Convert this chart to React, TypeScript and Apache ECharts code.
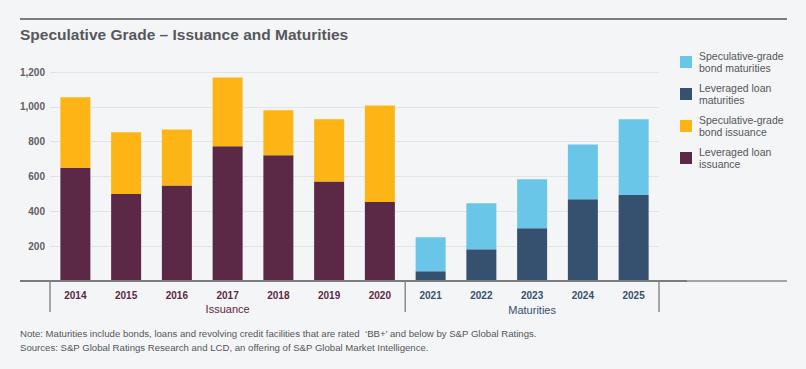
import React, { useEffect, useRef } from "react";
import * as echarts from "echarts";

const years = ["2014", "2015", "2016", "2017", "2018", "2019", "2020", "2021", "2022", "2023", "2024", "2025"];
const loanIssuance = [649, 500, 548, 773, 722, 571, 453, "-", "-", "-", "-", "-"];
const bondIssuance = [406, 354, 322, 396, 258, 357, 555, "-", "-", "-", "-", "-"];
const loanMaturities = ["-", "-", "-", "-", "-", "-", "-", 56, 182, 303, 469, 494];
const bondMaturities = ["-", "-", "-", "-", "-", "-", "-", 195, 264, 281, 315, 434];
const yTicks = { min: 0, max: 1200, interval: 200 };
const groupLabels = ["Issuance", "Maturities"];
const title = "Speculative Grade – Issuance and Maturities";
const notes = [
  "Note: Maturities include bonds, loans and revolving credit facilities that are rated  ‘BB+’ and below by S&P Global Ratings.",
  "Sources: S&P Global Ratings Research and LCD, an offering of S&P Global Market Intelligence.",
];

const names = {
  bondMat: "Speculative-grade\nbond maturities",
  loanMat: "Leveraged loan\nmaturities",
  bondIss: "Speculative-grade\nbond issuance",
  loanIss: "Leveraged loan\nissuance",
};

const C = {
  maroon: "#5b2945",
  yellow: "#fdb515",
  navy: "#36516f",
  blue: "#69c6e8",
  text: "#555659",
  bg: "#f4f5f7",
};
const FONT = "Liberation Sans, Arial, sans-serif";

export default function App() {
  const ref = useRef<HTMLDivElement>(null);
  useEffect(() => {
    document.body.style.margin = "0";
    const chart = echarts.init(ref.current!, null, { renderer: "svg" });
    const issuanceCount = loanIssuance.filter((v) => v !== "-").length;
    chart.setOption({
      animation: false,
      backgroundColor: C.bg,
      textStyle: { fontFamily: FONT },
      grid: { left: 50, right: 147, top: 72, bottom: 88 },
      legend: {
        orient: "vertical",
        left: 680,
        top: 50,
        padding: 0,
        itemWidth: 12,
        itemHeight: 12,
        itemGap: 8,
        icon: "rect",
        data: [names.bondMat, names.loanMat, names.bondIss, names.loanIss],
        textStyle: { color: C.text, fontSize: 10.5, lineHeight: 12, fontFamily: FONT, padding: [0, 0, 0, 2] },
      },
      xAxis: {
        type: "category",
        data: years,
        axisLine: { show: false },
        axisTick: { show: false },
        axisLabel: {
          interval: 0,
          margin: 9,
          formatter: (v: string, i: number) => (i < issuanceCount ? `{a|${v}}` : `{b|${v}}`),
          rich: {
            a: { color: C.maroon, fontSize: 10, fontWeight: "bold", fontFamily: FONT },
            b: { color: C.navy, fontSize: 10, fontWeight: "bold", fontFamily: FONT },
          },
        },
      },
      yAxis: {
        type: "value",
        min: yTicks.min,
        max: yTicks.max,
        interval: yTicks.interval,
        axisLine: { show: false },
        axisTick: { show: false },
        splitLine: { lineStyle: { color: "#e2e3e7", width: 1 } },
        axisLabel: {
          showMinLabel: false,
          margin: 5,
          color: "#5f6063",
          fontSize: 10,
          fontWeight: "bold",
          fontFamily: FONT,
          formatter: (v: number) => v.toLocaleString("en-US"),
        },
      },
      series: [
        { name: names.loanIss, type: "bar", stack: "iss", barWidth: 30, barGap: "-100%", data: loanIssuance, itemStyle: { color: C.maroon } },
        { name: names.bondIss, type: "bar", stack: "iss", barWidth: 30, barGap: "-100%", data: bondIssuance, itemStyle: { color: C.yellow } },
        { name: names.loanMat, type: "bar", stack: "mat", barWidth: 30, barGap: "-100%", data: loanMaturities, itemStyle: { color: C.navy } },
        { name: names.bondMat, type: "bar", stack: "mat", barWidth: 30, barGap: "-100%", data: bondMaturities, itemStyle: { color: C.blue } },
      ],
    });

    const px = (i: number) => chart.convertToPixel({ xAxisIndex: 0 }, years[i]) as number;
    const step = px(1) - px(0);
    const left = px(0) - step / 2;
    const mid = (px(issuanceCount - 1) + px(issuanceCount)) / 2;
    const right = px(years.length - 1) + step / 2;
    const y0 = chart.convertToPixel({ yAxisIndex: 0 }, 0) as number;
    const sepLen = 31;
    const sep = (x: number) => ({
      type: "line",
      shape: { x1: x, y1: y0, x2: x, y2: y0 + sepLen },
      style: { stroke: "#8a8b8e", lineWidth: 1.5 },
      z: 10,
    });
    chart.setOption({
      graphic: [
        { type: "line", shape: { x1: 20, y1: 19, x2: 787, y2: 19 }, style: { stroke: "#7a7b7e", lineWidth: 2 } },
        {
          type: "text",
          x: 20,
          y: 34,
          style: { text: title, font: `bold 15.5px ${FONT}`, fill: "#57585b", verticalAlign: "middle" },
        },
        { type: "line", shape: { x1: 20, y1: y0, x2: right + 28, y2: y0 }, style: { stroke: "#7a7b7e", lineWidth: 2 }, z: 10 },
        { type: "line", shape: { x1: right + 28, y1: y0, x2: 787, y2: y0 }, style: { stroke: "#a3a4a7", lineWidth: 2 }, z: 10 },
        sep(left),
        sep(mid),
        sep(right),
        {
          type: "text",
          x: (left + mid) / 2,
          y: y0 + 27.5,
          style: { text: groupLabels[0], font: `11px ${FONT}`, fill: C.maroon, align: "center", verticalAlign: "middle" },
        },
        {
          type: "text",
          x: (mid + right) / 2,
          y: y0 + 28.5,
          style: { text: groupLabels[1], font: `11px ${FONT}`, fill: C.navy, align: "center", verticalAlign: "middle" },
        },
        {
          type: "text",
          x: 20,
          y: 333,
          style: { text: notes[0], font: `9.6px ${FONT}`, fill: C.text, verticalAlign: "middle" },
        },
        {
          type: "text",
          x: 20,
          y: 347,
          style: { text: notes[1], font: `9.6px ${FONT}`, fill: C.text, verticalAlign: "middle" },
        },
      ],
    });
    return () => chart.dispose();
  }, []);
  return <div ref={ref} style={{ width: 806, height: 369 }} />;
}
